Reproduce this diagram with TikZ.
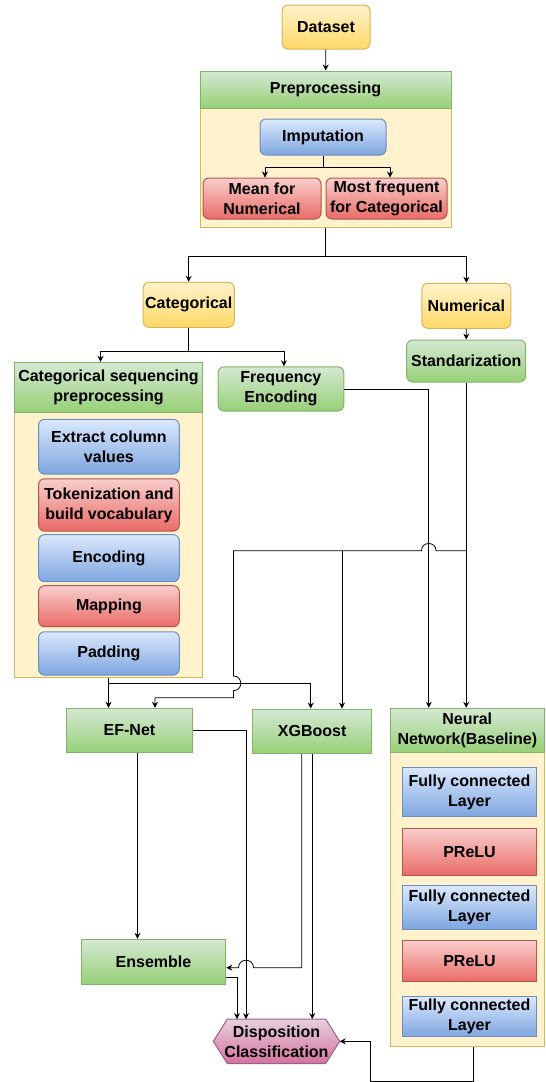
\documentclass[tikz,border=0pt]{standalone}
\usepackage{fontspec}
\setmainfont{Liberation Sans}
\usetikzlibrary{arrows.meta}
\definecolor{yelline}{HTML}{D6B656}
\definecolor{yeltop}{HTML}{FFF2CC}
\definecolor{yelbot}{HTML}{FFD966}
\definecolor{grnline}{HTML}{82B366}
\definecolor{grntop}{HTML}{D5E8D4}
\definecolor{grnbot}{HTML}{97D077}
\definecolor{bluline}{HTML}{6C8EBF}
\definecolor{blutop}{HTML}{DAE8FC}
\definecolor{blubot}{HTML}{7EA6E0}
\definecolor{redline}{HTML}{B85450}
\definecolor{redtop}{HTML}{F8CECC}
\definecolor{redbot}{HTML}{EA6B66}
\definecolor{pnkline}{HTML}{996185}
\definecolor{pnktop}{HTML}{E6D0DE}
\definecolor{pnkbot}{HTML}{D5739D}
\begin{document}
\begin{tikzpicture}[x=1pt,y=-1pt,
	base/.style={draw,line width=1pt,align=center,inner sep=2pt,font=\bfseries\fontsize{16}{20}\selectfont},
	dims/.style 2 args={minimum width=#1pt,minimum height=#2pt},
	yelbox/.style={base,rounded corners=6pt,draw=yelline,top color=yeltop,bottom color=yelbot},
	grnbox/.style={base,draw=grnline,top color=grntop,bottom color=grnbot},
	blubox/.style={base,rounded corners=6pt,draw=bluline,top color=blutop,bottom color=blubot},
	redbox/.style={base,rounded corners=6pt,draw=redline,top color=redtop,bottom color=redbot},
	cont/.style={draw=yelline,fill=yeltop,line width=1pt},
	arr/.style={line width=0.8pt,-{Stealth[length=6pt,width=6pt,inset=2pt]}}]
	\useasboundingbox (0,0) rectangle (546,1082);

	\node[yelbox,dims={88}{44}] (dataset) at (326,27) {Dataset};
	\node[cont,dims={251}{119}] (prepbody) at (325.5,167.5) {};
	\node[grnbox,dims={251}{37}] (prephead) at (325.5,89.5) {Preprocessing};
	\node[blubox,dims={126}{36}] (imput) at (323,137) {Imputation};
	\node[redbox,dims={118}{41}] (mean) at (262,198.5) {Mean for\\Numerical};
	\node[redbox,dims={121}{41}] (mostfreq) at (386.5,198.5) {Most frequent\\for Categorical};

	\node[yelbox,dims={88}{45}] (cat) at (188.7,304.8) {Categorical};
	\node[yelbox,dims={89}{45}] (num) at (466.4,305.8) {Numerical};
	\node[grnbox,rounded corners=6pt,dims={119}{42}] (stand) at (466.2,361) {Standarization};

	\node[cont,dims={187.6}{264.6}] (catseqbody) at (108.5,545) {};
	\node[grnbox,dims={187.6}{50.4}] (catseqhead) at (108.5,387.5) {Categorical sequencing\\preprocessing};
	\node[grnbox,rounded corners=6pt,dims={125.7}{44.3}] (freq) at (280.9,388.9) {Frequency\\Encoding};
	\node[blubox,dims={140.7}{54.7}] (extract) at (108.9,446.7) {Extract column\\values};
	\node[redbox,dims={140.7}{52.3}] (token) at (108.9,504.9) {Tokenization and\\build vocabulary};
	\node[blubox,dims={140.7}{47}] (encod) at (108.9,558.2) {Encoding};
	\node[redbox,dims={140.7}{41}] (mapping) at (108.9,606.2) {Mapping};
	\node[blubox,dims={140.7}{43.3}] (padding) at (108.9,653.4) {Padding};

	\node[grnbox,dims={126}{44}] (efnet) at (129.5,730.3) {EF-Net};
	\node[grnbox,dims={119}{44.3}] (xgb) at (312.2,731.2) {XGBoost};
	\node[cont,dims={154}{293.7}] (nnbody) at (467.3,899.2) {};
	\node[grnbox,dims={154}{44}] (nnhead) at (467.3,730.3) {Neural\\Network(Baseline)};
	\node[blubox,sharp corners,dims={134.1}{49.4}] (fc1) at (469.5,792) {Fully connected\\Layer};
	\node[redbox,sharp corners,dims={134.1}{47.4}] (prelu1) at (469.5,852) {PReLU};
	\node[blubox,sharp corners,dims={134.1}{43.3}] (fc2) at (469.5,907.4) {Fully connected\\Layer};
	\node[redbox,sharp corners,dims={134.1}{41}] (prelu2) at (469.5,961.2) {PReLU};
	\node[blubox,sharp corners,dims={134.1}{40}] (fc3) at (469.5,1016.7) {Fully connected\\Layer};

	\node[grnbox,dims={144.6}{44.7}] (ensemble) at (153.5,961.7) {Ensemble};
	\node[dims={126}{44},inner sep=0pt] (dispo) at (276.5,1041.3) {};
	\shade[draw=pnkline,line width=1pt,top color=pnktop,bottom color=pnkbot]
		(dispo.west) -- ([xshift=14pt]dispo.north west) -- ([xshift=-14pt]dispo.north east)
		-- (dispo.east) -- ([xshift=-14pt]dispo.south east) -- ([xshift=14pt]dispo.south west) -- cycle;
	\node[base,draw=none,inner sep=0pt] (dispotxt) at (dispo) {Disposition\\Classification};

	\draw[arr] (dataset) -- (prephead);
	\draw[arr] (imput.south) -- ++(0,12) coordinate (ib) -| ([xshift=3pt]mean.north);
	\draw[arr] (ib) -| ([xshift=3.5pt]mostfreq.north);
	\draw[arr] (prepbody.south) -- ++(0,28.7) coordinate (pb) -| (cat.north);
	\draw[arr] (pb) -| (num.north);
	\draw[arr] (num) -- (stand);
	\draw[arr] (cat.south) -- ++(0,23.7) coordinate (cb) -| ([xshift=-8pt]catseqhead.north);
	\draw[arr] (cb) -| ([xshift=3pt]freq.north);
	\draw[arr] (freq.east) -| ([xshift=-38.5pt]nnhead.north);
	\draw[arr] (stand.south) -- (stand.south |- nnhead.north);

	\coordinate (xj) at (342,550.7);
	\draw[arr] (stand.south |- 0,550.7) -- (436,550.7) to[out=90,in=90,looseness=1.7] (421.5,550.7)
		-- (233.5,550.7) -- (233.5,676) to[out=0,in=0,looseness=1.7] (233.5,690.6)
		-- (233.5,697.7) -| ([xshift=25.5pt]efnet.north);
	\draw[arr] (xj) -- (xj |- xgb.north);
	\draw[arr] (catseqbody.south) -- (catseqbody.south |- efnet.north);
	\draw[arr] (catseqbody.south) ++(0,6) -| ([xshift=-1.5pt]xgb.north);

	\draw[arr] ([xshift=8pt]efnet.south) -- ([xshift=-16pt]ensemble.north);
	\draw[arr] (efnet.east) -| ([xshift=-30.5pt]dispo.north);
	\draw[arr] ([xshift=-10.5pt]xgb.south) |- (253.5,967.7) to[out=90,in=90,looseness=1.7] (238.5,967.7)
		-- ([yshift=-6pt]ensemble.east);
	\draw[arr] (xgb.south) -- (xgb.south |- dispo.north);
	\draw[arr] ([yshift=-15.6pt]ensemble.east) -| ([xshift=-39.5pt]dispo.north);
	\draw[arr] ([xshift=6.3pt]nnbody.south) -- ++(0,34.7) -| (370.3,1041.3) -- (dispo.east);
\end{tikzpicture}
\end{document}
